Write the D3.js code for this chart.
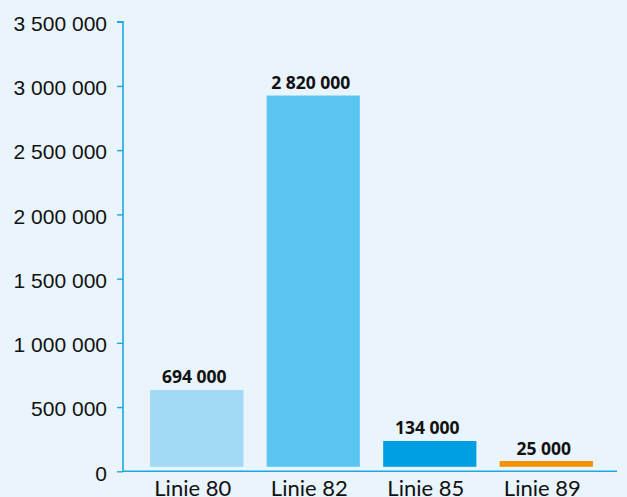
<!DOCTYPE html>
<html><head><meta charset="utf-8">
<script src="https://cdn.jsdelivr.net/npm/d3@7"></script>
<style>
html,body{margin:0;padding:0;background:#e9f4fc;}
svg{display:block;}
</style></head>
<body>
<svg id="chart" width="627" height="497"></svg>
<script>
const categories = ["Linie 80", "Linie 82", "Linie 85", "Linie 89"];
const labelValues = [694000, 2820000, 134000, 25000];
const barValues = [633000, 2925000, 236000, 80000];
const barColors = ["#a2d9f6", "#5bc5f2", "#009fe3", "#f39200"];
const tickValues = [0, 500000, 1000000, 1500000, 2000000, 2500000, 3000000, 3500000];

const svg = d3.select("#chart");
const W = 627, H = 497;
svg.append("rect").attr("width", W).attr("height", H).attr("fill", "#e9f4fc");

const fmt = d3.formatLocale({decimal: ",", thousands: " ", grouping: [3], currency: ["", ""]}).format(",d");

const x = d3.scaleBand().domain(categories).range([123, 617]).paddingInner(0.2).paddingOuter(0.22).align(0.53);
const y = d3.scaleLinear().domain([0, 3500000]).range([471.3, 21.7]);
const axisColor = "#1ea7e1";
const baseGap = 4.5;

// y axis
const yAxis = svg.append("g").attr("transform", "translate(123,0)")
  .call(d3.axisLeft(y).tickValues(tickValues).tickFormat(fmt).tickSize(6).tickPadding(10));
yAxis.select(".domain").attr("stroke", axisColor).attr("stroke-width", 1.6)
  .attr("d", `M-6,${y(3500000)}H0V${y(0)}`);
yAxis.selectAll(".tick line").attr("stroke", axisColor).attr("stroke-width", 1.4);
yAxis.selectAll(".tick text").attr("fill", "#111").attr("font-family", "Liberation Sans, Arial, sans-serif")
  .attr("font-size", 21).attr("dy", "0.42em").attr("x", -16);

// x axis
const xAxis = svg.append("g").attr("transform", `translate(0,${y(0)})`)
  .call(d3.axisBottom(x).tickSize(0).tickPadding(10));
xAxis.select(".domain").attr("stroke", axisColor).attr("stroke-width", 1.6).attr("d", "M123,0H617");
xAxis.selectAll(".tick text").attr("fill", "#111").attr("font-family", "Lato, sans-serif")
  .attr("font-size", 22).attr("dx", -4).attr("dy", "0.66em");

// bars
svg.append("g").selectAll("rect").data(categories).join("rect")
  .attr("x", d => x(d))
  .attr("width", x.bandwidth())
  .attr("y", (d, i) => y(barValues[i]))
  .attr("height", (d, i) => y(0) - baseGap - y(barValues[i]))
  .attr("fill", (d, i) => barColors[i]);

// value labels
svg.append("g").selectAll("text").data(categories).join("text")
  .attr("x", d => x(d) + x.bandwidth() / 2 - 2.5)
  .attr("y", (d, i) => y(barValues[i]) - 6.5)
  .attr("text-anchor", "middle")
  .attr("font-family", "Open Sans, sans-serif")
  .attr("font-weight", "bold")
  .attr("font-size", 17.5)
  .attr("fill", "#111")
  .text((d, i) => fmt(labelValues[i]));
</script>
</body></html>
